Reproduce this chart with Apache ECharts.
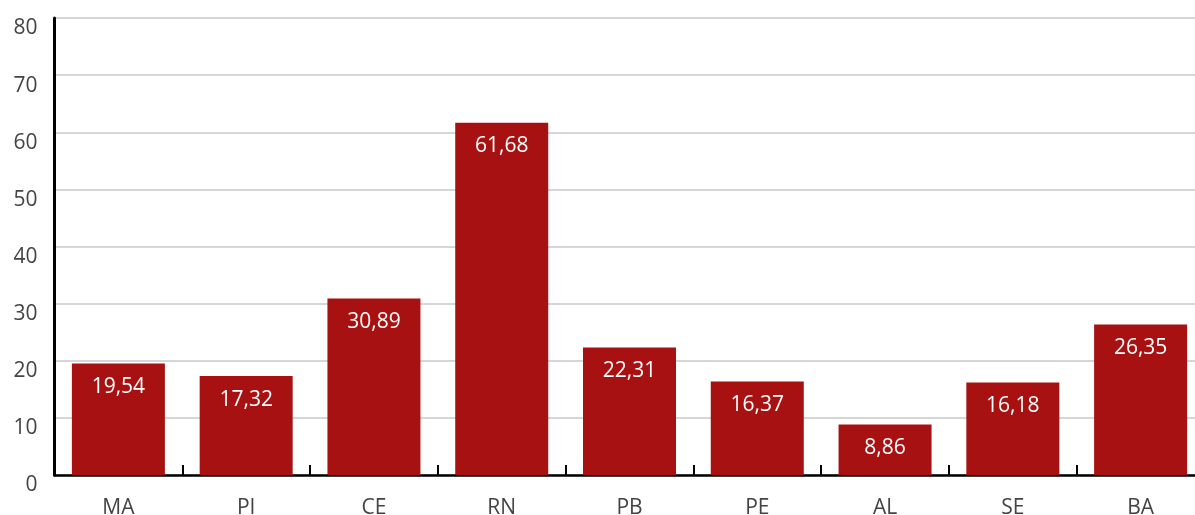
<!DOCTYPE html>
<html><head><meta charset="utf-8">
<script src="https://cdn.jsdelivr.net/npm/echarts@6/dist/echarts.min.js"></script>
<style>html,body{margin:0;padding:0;background:#fff}#c{width:1195px;height:515px}</style>
</head><body><div id="c"></div>
<script>
const categories = ['MA','PI','CE','RN','PB','PE','AL','SE','BA'];
const values = [19.54, 17.32, 30.89, 61.68, 22.31, 16.37, 8.86, 16.18, 26.35];
const yTicks = {min: 0, max: 80, interval: 10};

const chart = echarts.init(document.getElementById('c'));
chart.setOption({
  animation: false,
  grid: {left: 54.5, width: 1150, top: 18, bottom: 40, containLabel: false, outerBoundsMode: 'none'},
  xAxis: {
    type: 'category', data: categories,
    axisLine: {lineStyle: {color: '#000', width: 2.5}},
    axisTick: {show: true, inside: true, length: 10, lineStyle: {color: '#000', width: 2}},
    axisLabel: {color: '#444', fontSize: 21, fontFamily: 'Open Sans', margin: 23}
  },
  yAxis: {
    type: 'value', min: yTicks.min, max: yTicks.max, interval: yTicks.interval,
    axisLine: {show: true, lineStyle: {color: '#000', width: 3}},
    axisTick: {show: false},
    splitLine: {lineStyle: {color: '#c8c8c8', width: 1.5}},
    axisLabel: {color: '#444', fontSize: 21, fontFamily: 'Open Sans', margin: 17,
      verticalAlign: 'top', lineHeight: 21}
  },
  series: [{
    type: 'bar', data: values, barWidth: 93,
    itemStyle: {color: '#A81111'},
    label: {
      show: true, position: 'insideTop', distance: 13,
      color: '#fff', fontSize: 21, fontFamily: 'Open Sans',
      formatter: p => p.value.toFixed(2).replace('.', ',')
    }
  }]
});
</script></body></html>
